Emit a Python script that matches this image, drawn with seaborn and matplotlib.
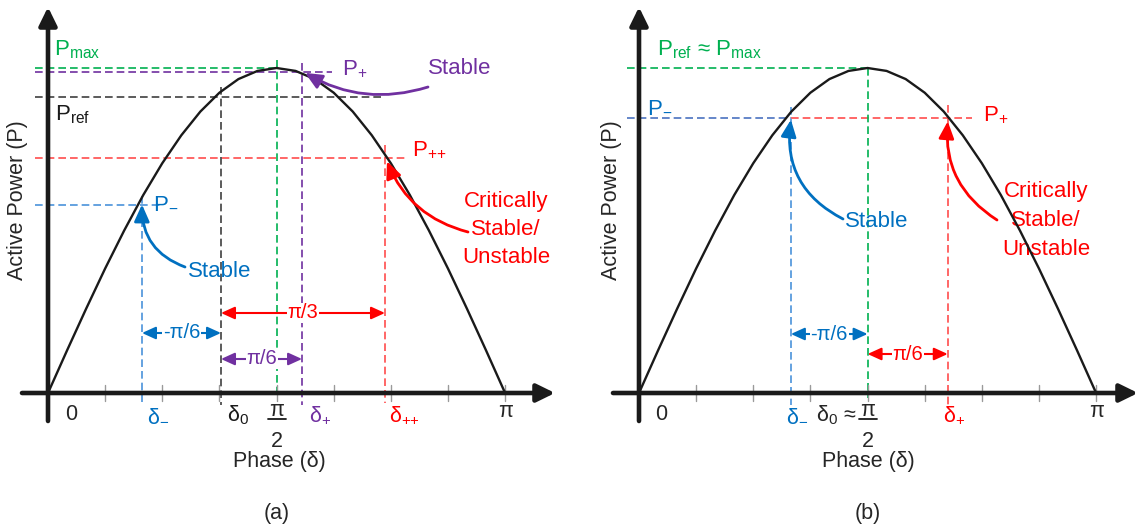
import numpy as np
import matplotlib
matplotlib.use("Agg")
import matplotlib.pyplot as plt
import seaborn as sns

# ---------------- data ----------------
curve_phase_deg = [0, 7.5, 15, 22.5, 30, 37.5, 45, 52.5, 60, 67.5, 75, 82.5, 90,
                   97.5, 105, 112.5, 120, 127.5, 135, 142.5, 150, 157.5, 165, 172.5, 180]
curve_power_pu = [0.000, 0.131, 0.259, 0.383, 0.500, 0.609, 0.707, 0.793, 0.866, 0.924,
                  0.966, 0.991, 1.000, 0.991, 0.966, 0.924, 0.866, 0.793, 0.707, 0.609,
                  0.500, 0.383, 0.259, 0.131, 0.000]
tick_phase_deg = [22.5, 45, 67.5, 90, 112.5, 135, 157.5, 180]

# panel (a): delta_minus, delta_0, delta_plus, delta_plusplus
a_delta_rad = [0.646, 1.189, 1.746, 2.316]
a_power_pu = [0.580, 0.911, 0.988, 0.723]
a_pmax_pu = 1.0
a_span_labels = ["-π/6", "π/6", "π/3"]

# panel (b): delta_minus, delta_0 (~pi/2), delta_plus
b_delta_rad = [1.044, 1.571, 2.122]
b_power_pu = [0.846, 1.000, 0.846]
b_span_labels = ["-π/6", "π/6"]

# ---------------- style ----------------
sns.set_theme(style="white")
plt.rcParams["font.family"] = ["Liberation Sans", "DejaVu Sans"]
plt.rcParams["mathtext.fontset"] = "custom"
plt.rcParams["mathtext.rm"] = "Liberation Sans"

GREEN = "#00B050"
PURPLE = "#7030A0"
BLUE = "#0070C0"
RED = "#FF0000"
DGRAY = "#404040"
RED_D = "#FF4D4D"
BLUE_D = "#4A92DA"
BLUE_H = "#4A72C0"

PXR = 145.5   # pixels per radian
PXP = 325.0   # pixels per p.u.
Y0 = 393.0    # pixel row of the phase axis


def X(x0, xp):
    return (xp - x0) / PXR


def Y(yp):
    return (Y0 - yp) / PXP


def dpx(p):
    return p / PXR


fig = plt.figure(figsize=(11.4, 5.28), dpi=100)
axA = fig.add_axes([0, 0, 0.5, 1])
axB = fig.add_axes([0.5, 0, 0.5, 1])
X0A, X0B = 48, 639


def dline(ax, xs, ys, color, lw=1.2):
    ax.plot(xs, ys, color=color, lw=lw, dashes=(4.6, 2.4), zorder=2)


def base(ax, x0, x_start, x_tip):
    sns.lineplot(x=np.deg2rad(curve_phase_deg), y=curve_power_pu, ax=ax,
                 color="k", lw=1.7, zorder=4, legend=False, sort=False)
    for d in tick_phase_deg:
        r = np.deg2rad(d)
        ax.plot([r, r], [Y(385), Y(401)], color="#9a9a9a", lw=1.0, zorder=3)
    ap = dict(arrowstyle="-|>,head_length=0.55,head_width=0.27", lw=3.3, color="k",
              shrinkA=0, shrinkB=0, mutation_scale=20)
    ax.annotate("", xy=(X(x0, x_tip), 0), xytext=(X(x0, x_start), 0),
                arrowprops=ap, zorder=6)
    ax.annotate("", xy=(0, Y(7)), xytext=(0, Y(421)), arrowprops=ap, zorder=6)
    ax.set_ylim(Y(528), Y(0))
    ax.set_axis_off()


def span(ax, x1, x2, yp, label, color):
    y = Y(yp)
    ax.annotate("", xy=(x2, y), xytext=(x1, y),
                arrowprops=dict(arrowstyle="<|-|>,head_length=0.55,head_width=0.25",
                                color=color, lw=1.5, shrinkA=0, shrinkB=0,
                                mutation_scale=15), zorder=5)
    ax.text((x1 + x2) / 2, y, label, color=color, fontsize=14.5, ha="center",
            va="center", zorder=7,
            bbox=dict(boxstyle="square,pad=0.03", fc="white", ec="none"))


def curved(ax, tip, tail, color, rad):
    ax.annotate("", xy=tip, xytext=tail,
                arrowprops=dict(arrowstyle="-|>,head_length=0.6,head_width=0.27",
                                color=color, lw=2.0, shrinkA=0, shrinkB=0,
                                mutation_scale=17,
                                connectionstyle=f"arc3,rad={rad}"), zorder=6)


PPP = r"P$_\mathregular{{+}{+}}$"

# ======================= panel (a) =======================
ax = axA
base(ax, X0A, 22, 555)
ax.set_xlim(X(X0A, 0), X(X0A, 570))
dm, d0, dp, dpp = a_delta_rad
pm, pref, pp, ppp = a_power_pu
xl = X(X0A, 35)

# horizontal reference lines
dline(ax, [xl, np.pi / 2], [a_pmax_pu, a_pmax_pu], GREEN)
dline(ax, [xl, X(X0A, 332)], [pp, pp], PURPLE)
dline(ax, [xl, X(X0A, 382)], [pref, pref], DGRAY)
dline(ax, [xl, X(X0A, 405)], [ppp, ppp], RED_D)
dline(ax, [xl, X(X0A, 160)], [pm, pm], BLUE_D)
# vertical reference lines
dline(ax, [np.pi / 2, np.pi / 2], [Y(60), Y(398)], GREEN)
dline(ax, [dp, dp], [Y(63), Y(405)], PURPLE)
dline(ax, [d0, d0], [Y(87), Y(405)], DGRAY)
dline(ax, [dpp, dpp], [Y(145), Y(403)], RED_D)
dline(ax, [dm, dm], [Y(196), Y(405)], BLUE_D)

# span arrows
span(ax, dm, d0, 333, a_span_labels[0], BLUE)
span(ax, d0, dp, 359, a_span_labels[1], PURPLE)
span(ax, d0, dpp, 313, a_span_labels[2], RED)

# curved arrows
curved(ax, (dm, pm), (X(X0A, 185), Y(267)), BLUE, -0.35)
curved(ax, (dp + dpx(3), pp - 0.003), (X(X0A, 428), Y(87)), PURPLE, -0.22)
curved(ax, (dpp + dpx(2), ppp - 0.01), (X(X0A, 468), Y(232)), RED, -0.25)

# P labels
fsP = 16
ax.text(X(X0A, 54), Y(55), r"P$_\mathregular{max}$", color=GREEN, fontsize=fsP, va="baseline")
ax.text(X(X0A, 55), Y(120), r"P$_\mathregular{ref}$", color="k", fontsize=fsP, va="baseline")
ax.text(X(X0A, 342), Y(74), r"P$_\mathregular{+}$", color=PURPLE, fontsize=fsP, va="baseline")
ax.text(X(X0A, 412), Y(155), PPP, color=RED, fontsize=fsP, va="baseline")
ax.text(X(X0A, 153), Y(208), r"P$_\mathregular{-}$", color=BLUE, fontsize=fsP, va="baseline")

# annotation texts
fsA = 16
ax.text(X(X0A, 188), Y(277), "Stable", color=BLUE, fontsize=fsA, va="baseline")
ax.text(X(X0A, 428), Y(74), "Stable", color=PURPLE, fontsize=fsA, va="baseline")
for s, yb in zip(["Critically", "Stable/", "Unstable"], [207, 235, 263]):
    ax.text(X(X0A, 506), Y(yb), s, color=RED, fontsize=fsA, ha="center", va="baseline")

# axis tick labels
fsT = 15.5
ax.text(X(X0A, 71), Y(420), "0", fontsize=fsT, ha="center", va="baseline")
ax.text(np.pi, Y(417), "π", fontsize=fsT, ha="center", va="baseline")
ax.text(np.pi / 2, Y(416), "π", fontsize=fsT, ha="center", va="baseline")
ax.plot([np.pi / 2 - dpx(9), np.pi / 2 + dpx(9)], [Y(419), Y(419)], color="k", lw=1.3)
ax.text(np.pi / 2, Y(447), "2", fontsize=fsT, ha="center", va="baseline")
ax.text(dm + dpx(5), Y(421), r"δ$_\mathregular{-}$", color=BLUE, fontsize=fsT, va="baseline")
ax.text(d0 + dpx(6), Y(421), r"δ$_\mathregular{0}$", color="k", fontsize=fsT, va="baseline")
ax.text(dp + dpx(7), Y(421), r"δ$_\mathregular{+}$", color=PURPLE, fontsize=fsT, va="baseline")
ax.text(dpp + dpx(4), Y(421), r"δ$_\mathregular{{+}{+}}$", color=RED, fontsize=fsT, va="baseline")

ax.text(X(X0A, 279), Y(461), "Phase (δ)", fontsize=15.5, ha="center", va="center")
ax.text(X(X0A, 18), Y(200), "Active Power (P)", fontsize=15.5, ha="center", va="center",
        rotation=90)
ax.text(X(X0A, 277), Y(514), "(a)", fontsize=15.5, ha="center", va="center")

# ======================= panel (b) =======================
ax = axB
base(ax, X0B, 613, 1138)
ax.set_xlim(X(X0B, 570), X(X0B, 1140))
bm, b0, bp = b_delta_rad
qm, qmax, qp = b_power_pu
xl = X(X0B, 627)

dline(ax, [xl, b0], [qmax, qmax], GREEN)
dline(ax, [xl, bm], [qm, qm], BLUE_H)
dline(ax, [bm, X(X0B, 972)], [qp, qp], RED_D)
dline(ax, [b0, b0], [qmax, Y(398)], GREEN)
dline(ax, [bm, bm], [Y(107), Y(405)], BLUE_D)
dline(ax, [bp, bp], [Y(105), Y(405)], RED_D)

span(ax, bm, b0, 334, b_span_labels[0], BLUE)
span(ax, b0, bp, 354, b_span_labels[1], RED)

curved(ax, (bm, qm - 0.005), (X(X0B, 843), Y(219)), BLUE, -0.35)
curved(ax, (bp, qp - 0.01), (X(X0B, 997), Y(220)), RED, -0.3)

ax.text(X(X0B, 657), Y(55), r"P$_\mathregular{ref}$ ≈ P$_\mathregular{max}$", color=GREEN,
        fontsize=fsP, va="baseline")
ax.text(X(X0B, 647), Y(112), r"P$_\mathregular{-}$", color=BLUE, fontsize=fsP, va="baseline")
ax.text(X(X0B, 983), Y(120), r"P$_\mathregular{+}$", color=RED, fontsize=fsP, va="baseline")

ax.text(X(X0B, 845), Y(227), "Stable", color=BLUE, fontsize=fsA, va="baseline")
for s, yb in zip(["Critically", "Stable/", "Unstable"], [197, 226, 255]):
    ax.text(X(X0B, 1046), Y(yb), s, color=RED, fontsize=fsA, ha="center", va="baseline")

ax.text(X(X0B, 661), Y(420), "0", fontsize=fsT, ha="center", va="baseline")
ax.text(np.pi, Y(417), "π", fontsize=fsT, ha="center", va="baseline")
ax.text(b0, Y(416), "π", fontsize=fsT, ha="center", va="baseline")
ax.plot([b0 - dpx(9), b0 + dpx(9)], [Y(419), Y(419)], color="k", lw=1.3)
ax.text(b0, Y(447), "2", fontsize=fsT, ha="center", va="baseline")
ax.text(b0 - dpx(11), Y(421), r"δ$_\mathregular{0}$ ≈", fontsize=fsT, ha="right", va="baseline")
ax.text(bm - dpx(5), Y(421), r"δ$_\mathregular{-}$", color=BLUE, fontsize=fsT, va="baseline")
ax.text(bp - dpx(5), Y(421), r"δ$_\mathregular{+}$", color=RED, fontsize=fsT, va="baseline")

ax.text(X(X0B, 868), Y(461), "Phase (δ)", fontsize=15.5, ha="center", va="center")
ax.text(X(X0B, 612), Y(200), "Active Power (P)", fontsize=15.5, ha="center", va="center",
        rotation=90)
ax.text(X(X0B, 868), Y(514), "(b)", fontsize=15.5, ha="center", va="center")

fig.savefig("out.png", dpi=100, facecolor="white")
